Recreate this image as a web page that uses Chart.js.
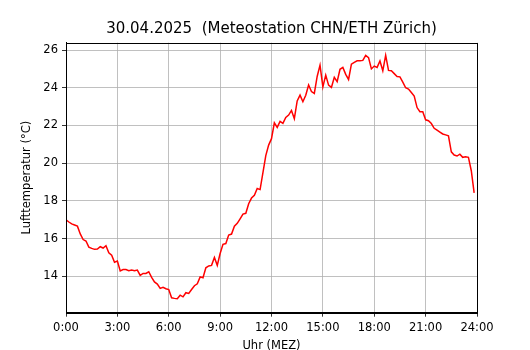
<!DOCTYPE html>
<html>
<head>
<meta charset="utf-8">
<script src="https://cdn.jsdelivr.net/npm/chart.js@4.4.1/dist/chart.umd.min.js"></script>
<style>
  body { margin: 0; background: #fff; }
  #wrap { width: 530px; height: 350px; }
</style>
</head>
<body>
<div id="wrap"><canvas id="tempChart" width="530" height="350"></canvas></div>
<script>
// Lufttemperatur 30.04.2025, 10-Minuten-Werte ab 0:00
const temps = [
    17.0, 16.88, 16.78, 16.72, 16.66, 16.25, 15.95, 15.87, 15.55, 15.48, 15.43, 15.45,
    15.57, 15.5, 15.62, 15.25, 15.12, 14.75, 14.81, 14.29, 14.36, 14.36, 14.3, 14.33,
    14.3, 14.33, 14.05, 14.15, 14.15, 14.24, 13.94, 13.7, 13.59, 13.36, 13.42, 13.34,
    13.3, 12.86, 12.83, 12.81, 13.0, 12.91, 13.13, 13.09, 13.3, 13.5, 13.6, 13.97,
    13.92, 14.45, 14.55, 14.58, 15.0, 14.58, 15.21, 15.7, 15.74, 16.19, 16.24, 16.66,
    16.81, 17.05, 17.3, 17.34, 17.85, 18.15, 18.3, 18.66, 18.6, 19.5, 20.4, 20.96,
    21.3, 22.14, 21.9, 22.22, 22.11, 22.43, 22.55, 22.8, 22.36, 23.3, 23.61, 23.26,
    23.6, 24.15, 23.8, 23.7, 24.6, 25.2, 24.05, 24.67, 24.14, 24.02, 24.55, 24.32,
    24.98, 25.08, 24.71, 24.44, 25.25, 25.35, 25.43, 25.43, 25.45, 25.72, 25.6, 25.0,
    25.15, 25.08, 25.42, 24.9, 25.72, 24.92, 24.9, 24.75, 24.6, 24.58, 24.3, 24.0,
    23.93, 23.75, 23.56, 22.95, 22.73, 22.73, 22.3, 22.25, 22.1, 21.85, 21.75, 21.65,
    21.55, 21.5, 21.45, 20.6, 20.43, 20.38, 20.48, 20.31, 20.34, 20.31, 19.6, 18.43
];
const stepMinutes = 10;
const xTicks = [0, 3, 6, 9, 12, 15, 18, 21, 24];
const yTicks = [14, 16, 18, 20, 22, 24, 26];
const yMin = 12.07;
const yMax = 26.39;

const FONT = 'DejaVu Sans';

// matplotlib-style frame on all four sides
const framePlugin = {
    id: 'frame',
    afterDraw(chart) {
        const a = chart.chartArea;
        const c = chart.ctx;
        c.save();
        c.strokeStyle = '#000';
        c.lineWidth = 1;
        c.strokeRect(Math.round(a.left) + 0.5, Math.round(a.top) + 0.5,
                     Math.round(a.right - a.left), Math.round(a.bottom - a.top));
        c.restore();
    }
};

const points = temps.map((t, i) => ({ x: i * stepMinutes / 60, y: t }));

new Chart(document.getElementById('tempChart'), {
    type: 'line',
    data: {
        datasets: [{
            data: points,
            borderColor: '#ff0000',
            borderWidth: 1.5,
            pointRadius: 0,
            tension: 0,
            fill: false
        }]
    },
    options: {
        responsive: false,
        animation: false,
        layout: { padding: { left: 0, right: 53, top: 0, bottom: 0 } },
        plugins: {
            legend: { display: false },
            tooltip: { enabled: false },
            title: {
                display: true,
                fullSize: false,
                text: '30.04.2025  (Meteostation CHN/ETH Zürich)',
                color: '#000',
                font: { family: FONT, size: 15, weight: 'normal', lineHeight: 1.2 },
                padding: { top: 20, bottom: 4.7 }
            }
        },
        scales: {
            x: {
                type: 'linear',
                min: 0,
                max: 24,
                afterBuildTicks: s => { s.ticks = xTicks.map(v => ({ value: v })); },
                afterFit: s => { s.height = 37.3; },
                ticks: {
                    color: '#000',
                    font: { family: FONT, size: 11.5 },
                    padding: 4,
                    maxRotation: 0,
                    autoSkip: false,
                    callback: v => v + ':00'
                },
                grid: { color: '#b0b0b0', lineWidth: 0.8, tickColor: '#000', tickLength: 4 },
                border: { color: '#000' },
                title: {
                    display: true,
                    text: 'Uhr (MEZ)',
                    color: '#000',
                    font: { family: FONT, size: 11.5, lineHeight: 1 },
                    padding: { top: 0, bottom: -2 }
                }
            },
            y: {
                min: yMin,
                max: yMax,
                afterBuildTicks: s => { s.ticks = yTicks.map(v => ({ value: v })); },
                afterFit: s => { s.width = 66; },
                ticks: {
                    color: '#000',
                    font: { family: FONT, size: 11.5 },
                    padding: 4,
                    autoSkip: false
                },
                grid: { color: '#b0b0b0', lineWidth: 0.8, tickColor: '#000', tickLength: 4 },
                border: { color: '#000' },
                title: {
                    display: true,
                    text: 'Lufttemperatur (°C)',
                    color: '#000',
                    font: { family: FONT, size: 11.5, lineHeight: 1 },
                    padding: { top: 21, bottom: 0 }
                }
            }
        }
    },
    plugins: [framePlugin]
});
</script>
</body>
</html>
